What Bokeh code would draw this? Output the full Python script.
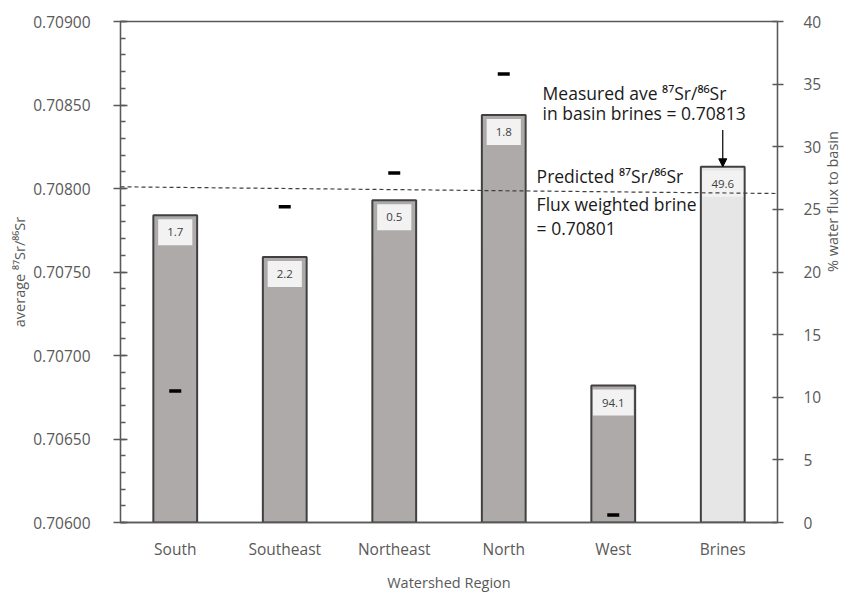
import math
from bokeh.plotting import figure
from bokeh.models import (FactorRange, Range1d, LinearAxis, Label, Arrow, NormalHead,
                          ColumnDataSource, SingleIntervalTicker, PrintfTickFormatter)
from bokeh.core.properties import value
from bokeh.embed import file_html
from bokeh.resources import INLINE

# ---------------- data ----------------
regions = ["South", "Southeast", "Northeast", "North", "West", "Brines"]
avg_sr_ratio = [0.70784, 0.70759, 0.70793, 0.70844, 0.70682, 0.70813]
pct_water_flux = [1.7, 2.2, 0.5, 1.8, 94.1, 49.6]
bar_colors = ["#aeaaaa", "#aeaaaa", "#aeaaaa", "#aeaaaa", "#aeaaaa", "#e7e6e6"]

dash_regions = ["South", "Southeast", "Northeast", "North", "West"]
dash_values = [10.5, 25.2, 27.9, 35.8, 0.6]

measured_brine = 0.70813
predicted_brine = 0.70801
predicted_line_ends = [0.70801, 0.70797]

FONT = "Open Sans"
AX = "#595959"

src = ColumnDataSource(dict(
    region=regions,
    ratio=avg_sr_ratio,
    flux_label=[f"{v:.1f}" for v in pct_water_flux],
    color=bar_colors,
))

p = figure(frame_width=657, frame_height=501,
           x_range=FactorRange(factors=regions, range_padding=0),
           y_range=Range1d(0.706, 0.709),
           output_backend="svg", toolbar_location=None,
           min_border_left=120, min_border_right=62,
           min_border_top=21, min_border_bottom=74)
p.extra_y_ranges = {"flux": Range1d(0, 40)}

p.xgrid.visible = False
p.ygrid.visible = False
p.outline_line_color = AX
p.outline_line_width = 1.3
p.background_fill_color = "white"
p.border_fill_color = "white"

# left axis
ya = p.yaxis[0]
ya.ticker = SingleIntervalTicker(interval=0.0005, num_minor_ticks=5)
ya.formatter = PrintfTickFormatter(format="%.5f")
ya.axis_label = "average \u2078\u2077Sr/\u2078\u2076Sr"
ya.major_tick_in = 7
ya.major_tick_out = 7
ya.minor_tick_in = 5
ya.minor_tick_out = 0
ya.major_label_standoff = 23
ya.axis_label_standoff = 1

# x axis
xa = p.xaxis[0]
xa.axis_label = "Watershed Region"
xa.major_tick_in = 0
xa.major_tick_out = 0
xa.minor_tick_line_color = None
xa.major_label_standoff = 15
xa.axis_label_standoff = 10

# right axis
ra = LinearAxis(y_range_name="flux", ticker=SingleIntervalTicker(interval=5))
ra.minor_tick_line_color = None
ra.major_tick_in = 5
ra.major_tick_out = 6
ra.major_label_standoff = 20
p.add_layout(ra, "right")

right_title = "% water flux to basin"
right_label_done = False
try:
    ra.axis_label_orientation = math.pi / 2
    ra.axis_label = right_title
    ra.axis_label_standoff = 8
    right_label_done = True
except Exception:
    right_label_done = False

for ax in [ya, xa, ra]:
    ax.axis_line_color = AX
    ax.axis_line_width = 1.3
    ax.major_tick_line_color = AX
    ax.major_tick_line_width = 1.3
    ax.minor_tick_line_width = 1.3
    ax.major_label_text_font = FONT
    ax.major_label_text_font_size = "15.5px"
    ax.major_label_text_color = AX
    ax.axis_label_text_font = FONT
    ax.axis_label_text_font_size = "14.5px"
    ax.axis_label_text_font_style = "normal"
    ax.axis_label_text_color = AX
ya.minor_tick_line_color = AX

if not right_label_done:
    p.add_layout(Label(x=709, y=250, x_units="screen", y_units="screen",
                       text=right_title, angle=math.pi / 2,
                       text_font=FONT, text_font_size="14.5px", text_color=AX,
                       text_align="center", text_baseline="middle"))

# bars
p.vbar(x="region", top="ratio", bottom=0.706, width=0.4, fill_color="color",
       line_color="#404040", line_width=2, source=src)

# bar value labels
p.text(x="region", y="ratio", text="flux_label", y_offset=17,
       text_align="center", text_baseline="middle",
       text_font=value(FONT), text_font_size="11.5px", text_color="#404040",
       background_fill_color="#f2f2f2", padding=9, source=src)

# dash markers on secondary axis
p.scatter(x=dash_regions, y=dash_values, marker="dash", size=12, line_width=3.5,
          line_color="black", y_range_name="flux")

# predicted flux-weighted line
p.line(x=[0, len(regions)], y=predicted_line_ends, line_dash="4 3",
       line_color="#404040", line_width=1.2)

# annotations
brine_x = regions.index("Brines") + 0.5
p.add_layout(Arrow(end=NormalHead(size=8, fill_color="black", line_color="black"),
                   x_start=brine_x, y_start=0.70835, x_end=brine_x, y_end=measured_brine,
                   line_color="black", line_width=1.2))

notes = [
    (3.855, 0.708572, "Measured ave \u2078\u2077Sr/\u2078\u2076Sr"),
    (3.855, 0.708450, f"in basin brines = {measured_brine:.5f}"),
    (3.80, 0.708075, "Predicted \u2078\u2077Sr/\u2078\u2076Sr"),
    (3.80, 0.707910, "Flux weighted brine"),
    (3.80, 0.707766, f"= {predicted_brine:.5f}"),
]
for nx, ny, t in notes:
    p.add_layout(Label(x=nx, y=ny, text=t, text_font=FONT, text_font_size="17.5px",
                       text_color="#1a1a1a", text_baseline="middle", text_align="left"))

open("out.html", "w").write(file_html(p, INLINE))
